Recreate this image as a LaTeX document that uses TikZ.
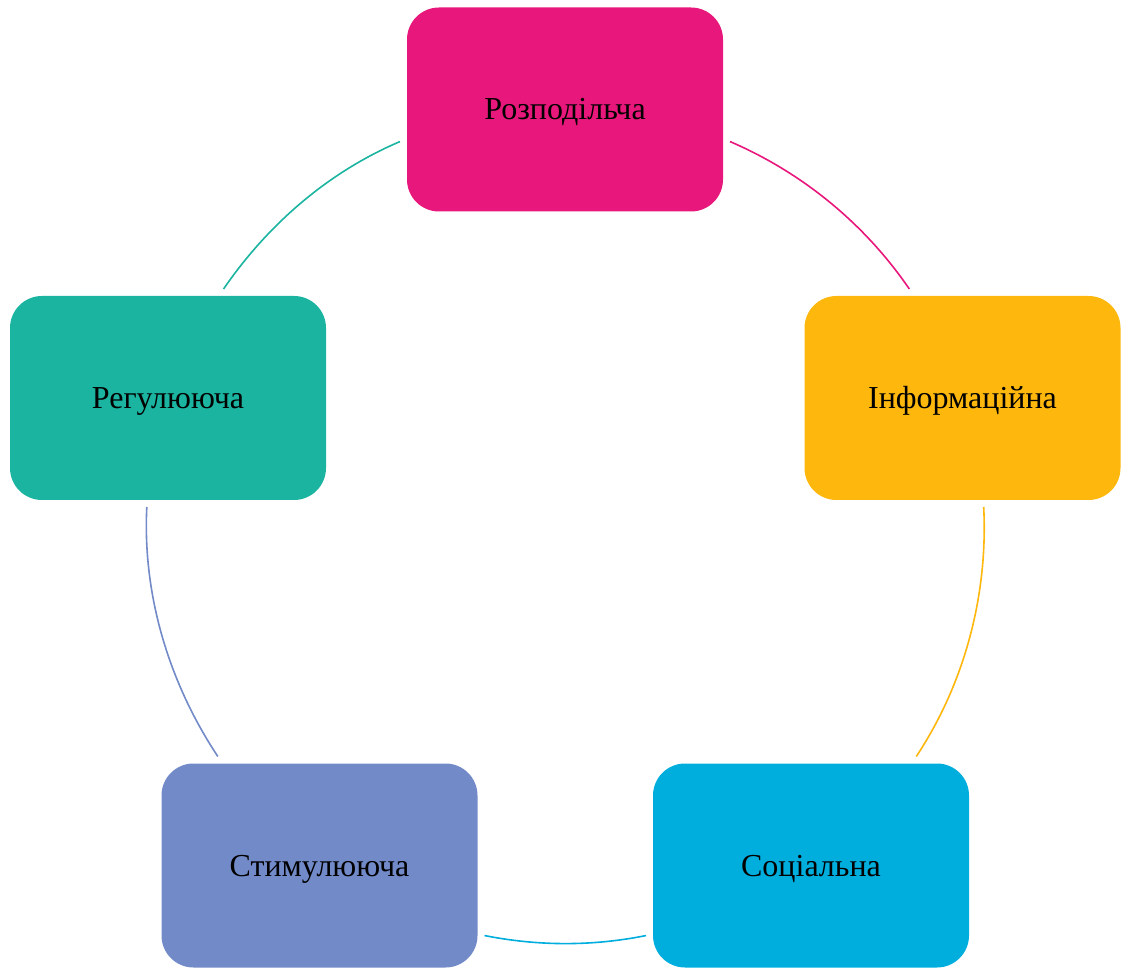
\documentclass[tikz,border=0pt]{standalone}
\usepackage{fontspec}
\setmainfont{Liberation Serif}
\definecolor{rozcol}{HTML}{E8177B}
\definecolor{infcol}{HTML}{FDB70D}
\definecolor{soccol}{HTML}{00AEDE}
\definecolor{stimcol}{HTML}{728AC8}
\definecolor{regcol}{HTML}{1BB4A0}
\tikzstyle{funcbox} = [shape=rectangle, rounded corners=32pt, minimum width=316pt, minimum height=204pt, inner sep=0pt, outer sep=7pt, text height=23pt, text depth=2pt, text=black, font=\fontsize{32}{38}\selectfont]
\tikzstyle{arcline} = [line width=1.6pt, looseness=0.87]

\begin{document}
\begin{tikzpicture}[x=1pt,y=1pt]
\useasboundingbox (0,0) rectangle (1124,967);

\node[funcbox, fill=rozcol] (v1) at (565,857.5) {Розподільча};
\node[funcbox, fill=infcol] (v2) at (962.5,569) {Інформаційна};
\node[funcbox, fill=soccol] (v3) at (811,101.5) {Соціальна};
\node[funcbox, fill=stimcol] (v4) at (319.5,101.5) {Стимулююча};
\node[funcbox, fill=regcol] (v5) at (168,569) {Регулююча};

\draw[arcline, draw=rozcol] (v1.-11.5) to[out=-23.25, in=124.4] (v2.116.1);
\draw[arcline, draw=infcol] (v2.-79.3) to[out=-87.1, in=56.5] (v3.46.2);
\draw[arcline, draw=soccol] (v3.203.7) to[out=-168.6, in=-11.2] (v4.-23.5);
\draw[arcline, draw=stimcol] (v4.133.6) to[out=123.6, in=-92.9] (v5.259.5);
\draw[arcline, draw=regcol] (v5.63.6) to[out=55.5, in=-157] (v1.191.6);
\end{tikzpicture}
\end{document}
